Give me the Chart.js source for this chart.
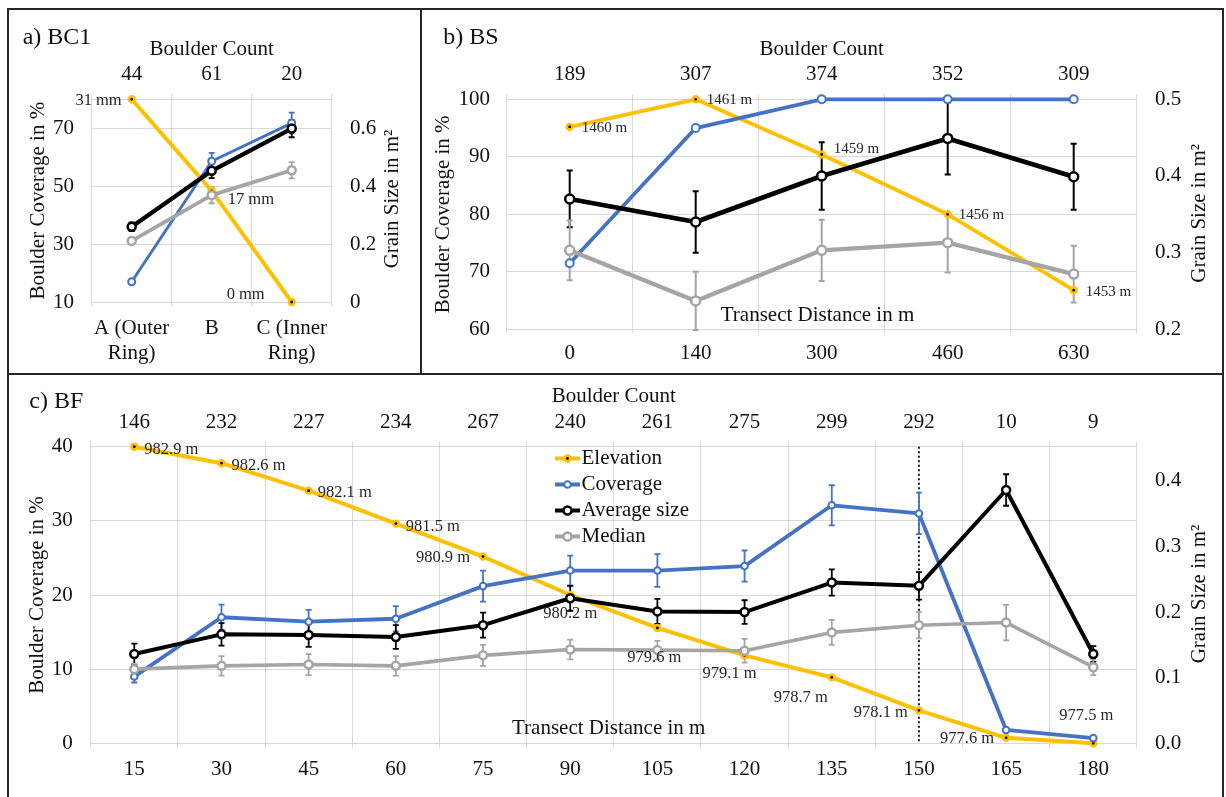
<!DOCTYPE html>
<html>
<head>
<meta charset="utf-8">
<title>Boulder coverage and grain size</title>
<script src="https://cdn.jsdelivr.net/npm/chart.js@4.4.1/dist/chart.umd.min.js"></script>
<style>
  html, body { margin:0; padding:0; background:#ffffff; }
  body { position:relative; width:1226px; height:797px; overflow:hidden; }
  canvas { position:absolute; }
  .frame { position:absolute; background:#262626; z-index:5; }
</style>
</head>
<body>
<canvas id="chartA" width="408" height="360" style="left:10px;top:11px"></canvas>
<canvas id="chartB" width="799" height="360" style="left:422px;top:11px"></canvas>
<canvas id="chartC" width="1211" height="420" style="left:10px;top:376px"></canvas>
<div class="frame" style="left:7px;top:8px;width:1217px;height:2px"></div>
<div class="frame" style="left:7px;top:8px;width:2px;height:789px"></div>
<div class="frame" style="left:1222px;top:8px;width:2px;height:789px"></div>
<div class="frame" style="left:7px;top:373px;width:1217px;height:2px"></div>
<div class="frame" style="left:420px;top:8px;width:2px;height:366px"></div>
<script>
// ================= DATA =================
// a) BC1
const aCategories = [['A (Outer', 'Ring)'], 'B', ['C (Inner', 'Ring)']];
const aBoulderCount = ['44', '61', '20'];
const aElevation = [31, 17, 0];                 // relative elevation in mm
const aCoverage = [17.0, 58.6, 71.8];           // %
const aCoverageErr = [0, 2.9, 3.6];
const aAverageSize = [0.260, 0.453, 0.599];     // m²
const aAverageErr = [0.015, 0.025, 0.030];
const aMedian = [0.211, 0.369, 0.455];
const aMedianErr = [0.012, 0.028, 0.028];
const aCoverageTicks = [10, 30, 50, 70];
const aSizeTicks = [0, 0.2, 0.4, 0.6];
const aSizeTickLabels = ['0', '0.2', '0.4', '0.6'];

// b) BS
const bDistance = ['0', '140', '300', '460', '630'];
const bBoulderCount = ['189', '307', '374', '352', '309'];
const bElevation = [1459.8, 1461.0, 1458.6, 1456.0, 1452.7];   // m
const bCoverage = [71.5, 95.0, 100, 100, 100];
const bAverageSize = [0.370, 0.340, 0.400, 0.449, 0.399];
const bAverageErr = [0.037, 0.040, 0.044, 0.047, 0.043];
const bMedian = [0.303, 0.237, 0.303, 0.313, 0.272];
const bMedianErr = [0.039, 0.038, 0.040, 0.039, 0.037];
const bCoverageTicks = [60, 70, 80, 90, 100];
const bSizeTicks = [0.2, 0.3, 0.4, 0.5];
const bSizeTickLabels = ['0.2', '0.3', '0.4', '0.5'];

// c) BF
const cDistance = ['15', '30', '45', '60', '75', '90', '105', '120', '135', '150', '165', '180'];
const cBoulderCount = ['146', '232', '227', '234', '267', '240', '261', '275', '299', '292', '10', '9'];
const cElevation = [982.9, 982.6, 982.1, 981.5, 980.9, 980.2, 979.6, 979.1, 978.7, 978.1, 977.6, 977.5];
const cCoverage = [9.0, 17.0, 16.4, 16.8, 21.2, 23.3, 23.3, 23.9, 32.1, 31.0, 1.8, 0.7];
const cCoverageErr = [0.8, 1.7, 1.6, 1.7, 2.1, 2.0, 2.2, 2.1, 2.7, 2.8, 0, 0];
const cAverageSize = [0.136, 0.166, 0.165, 0.162, 0.180, 0.221, 0.201, 0.200, 0.245, 0.240, 0.386, 0.136];
const cAverageErr = [0.016, 0.017, 0.018, 0.018, 0.019, 0.019, 0.019, 0.018, 0.020, 0.021, 0.024, 0.012];
const cMedian = [0.113, 0.118, 0.120, 0.118, 0.134, 0.143, 0.142, 0.141, 0.169, 0.180, 0.184, 0.116];
const cMedianErr = [0.008, 0.015, 0.016, 0.015, 0.016, 0.015, 0.014, 0.018, 0.019, 0.020, 0.027, 0.012];
const cCoverageTicks = [0, 10, 20, 30, 40];
const cSizeTicks = [0, 0.1, 0.2, 0.3, 0.4];
const cSizeTickLabels = ['0.0', '0.1', '0.2', '0.3', '0.4'];
const cDividerIndex = 9;   // dotted line at 150 m

// ================= STYLE / LAYOUT =================
const FONT = '"Liberation Serif", "Times New Roman", Times, serif';
const TXT = '#111111';
const LABEL_TXT = '#262626';
const GRID = '#d9d9d9';
const GOLD = '#FFC000', BLUE = '#4472C4', BLACK = '#000000', GREY = '#A5A5A5';

Chart.defaults.font.family = FONT;
Chart.defaults.font.size = 21;
Chart.defaults.color = TXT;

// label placements [dx, dy, align] relative to elevation points
const aElevPlace = [[-10, 1, 'right'], [16, 9, 'left'], [-27, -7, 'right']];
const bElevPlace = [[12, 1, 'left'], [11, 1, 'left'], [12, -5, 'left'], [11, 1, 'left'], [12, 2, 'left']];
const cElevPlace = [[10, 3, 'left'], [10, 2, 'left'], [9, 2, 'left'], [10, 3, 'left'], [-13, 1, 'right'],
  [0, 19, 'center'], [-3, 30, 'center'], [-15, 18, 'center'], [-31, 20, 'center'],
  [-11, 2, 'right'], [-12, 1, 'right'], [-7, -28, 'center']];

function elevationDataset(data, lw, r, bw) {
  return { label: 'Elevation', data, xAxisID: 'x', yAxisID: 'yElev', borderColor: GOLD, backgroundColor: GOLD,
    borderWidth: lw, pointRadius: r, pointBorderWidth: bw, pointBackgroundColor: '#000000',
    pointBorderColor: GOLD, tension: 0, fill: false, order: 4, clip: false,
    borderJoinStyle: 'round', borderCapStyle: 'round' };
}
function seriesDataset(label, data, errors, color, axis, lw, r, bw, order) {
  return { label, data, errors, xAxisID: 'x', yAxisID: axis, borderColor: color, backgroundColor: '#ffffff',
    borderWidth: lw, pointRadius: r, pointBorderWidth: bw, pointBackgroundColor: '#ffffff',
    pointBorderColor: color, tension: 0, fill: false, order, clip: false, borderJoinStyle: 'round' };
}

function xBottom(h, pad, tickLen) {
  return { type: 'category', position: 'bottom', offset: true,
    grid: { color: GRID, offset: true, drawTicks: true, tickLength: tickLen, lineWidth: 1 },
    border: { color: GRID },
    ticks: { font: { size: 21 }, color: TXT, padding: pad, maxRotation: 0, autoSkip: false },
    afterFit: s => { s.height = h; } };
}
function xTop(labels, h, pad, titlePad) {
  return { type: 'category', axis: 'x', position: 'top', labels, offset: true,
    grid: { color: GRID, offset: true, drawOnChartArea: false, drawTicks: true, tickLength: 5 },
    border: { color: GRID },
    ticks: { font: { size: 21 }, color: TXT, padding: pad, maxRotation: 0, autoSkip: false },
    title: { display: true, text: 'Boulder Count', font: { size: 21 }, color: TXT, padding: { top: titlePad, bottom: 0 } },
    afterFit: s => { s.height = h; } };
}
function yLeft(min, max, ticks, w, pad, titlePad) {
  return { type: 'linear', position: 'left', min, max,
    grid: { color: GRID, drawTicks: false, lineWidth: 1 }, border: { display: false },
    ticks: { font: { size: 21 }, color: TXT, padding: pad },
    afterBuildTicks: s => { s.ticks = ticks.map(v => ({ value: v })); },
    title: { display: true, text: 'Boulder Coverage in %', font: { size: 21 }, color: TXT, padding: { top: titlePad, bottom: 0 } },
    afterFit: s => { s.width = w; } };
}
function yRight(min, max, ticks, labels, w, pad) {
  return { type: 'linear', axis: 'y', position: 'right', min, max,
    grid: { drawOnChartArea: false, drawTicks: false }, border: { display: false },
    ticks: { font: { size: 21 }, color: TXT, padding: pad, callback: (v, i) => labels[i] },
    afterBuildTicks: s => { s.ticks = ticks.map(v => ({ value: v })); },
    afterFit: s => { s.width = w; } };
}
function baseOptions(scales) {
  return { responsive: false, animation: false, devicePixelRatio: 1, events: [],
    layout: { padding: 0 },
    plugins: { legend: { display: false }, tooltip: { enabled: false } },
    scales };
}

function extras(cfg) {
  return {
    id: 'extras',
    beforeDatasetsDraw(chart) {
      const ctx = chart.ctx;
      if (cfg.divider !== undefined) {
        const x = chart.scales.x.getPixelForValue(cfg.divider);
        ctx.save();
        ctx.strokeStyle = '#000000';
        ctx.lineWidth = 1.8;
        ctx.setLineDash([2, 2.5]);
        ctx.beginPath();
        ctx.moveTo(x, chart.chartArea.top);
        ctx.lineTo(x, chart.chartArea.bottom);
        ctx.stroke();
        ctx.restore();
      }
      chart.data.datasets.forEach((ds, di) => {
        if (!ds.errors) return;
        const meta = chart.getDatasetMeta(di);
        const ys = chart.scales[ds.yAxisID];
        ctx.save();
        ctx.strokeStyle = ds.borderColor;
        ctx.lineWidth = cfg.errWidth;
        ds.errors.forEach((e, i) => {
          if (!e) return;
          const x = meta.data[i].x, v = ds.data[i];
          const y1 = ys.getPixelForValue(v + e), y2 = ys.getPixelForValue(v - e);
          const c = cfg.errCap;
          ctx.beginPath();
          ctx.moveTo(x, y1); ctx.lineTo(x, y2);
          ctx.moveTo(x - c, y1); ctx.lineTo(x + c, y1);
          ctx.moveTo(x - c, y2); ctx.lineTo(x + c, y2);
          ctx.stroke();
        });
        ctx.restore();
      });
    },
    afterDatasetsDraw(chart) {
      const ctx = chart.ctx;
      const L = cfg.elevLabels;
      const meta = chart.getDatasetMeta(0);
      ctx.save();
      ctx.font = L.size + 'px ' + FONT;
      ctx.fillStyle = LABEL_TXT;
      ctx.textBaseline = 'middle';
      chart.data.datasets[0].data.forEach((v, i) => {
        const p = meta.data[i];
        const pl = L.place[i];
        ctx.textAlign = pl[2];
        ctx.fillText(L.format(v), p.x + pl[0], p.y + pl[1]);
      });
      ctx.restore();
    },
    afterDraw(chart) {
      const ctx = chart.ctx;
      ctx.save();
      ctx.fillStyle = TXT;
      ctx.textBaseline = 'middle';
      // panel title
      ctx.font = '24px ' + FONT;
      ctx.textAlign = 'left';
      ctx.fillText(cfg.panelTitle.text, cfg.panelTitle.x, cfg.panelTitle.y);
      // in-plot caption
      ctx.font = '21px ' + FONT;
      if (cfg.caption) {
        ctx.textAlign = 'center';
        ctx.fillText(cfg.caption.text, cfg.caption.x, cfg.caption.y);
      }
      // right axis title (reads bottom to top)
      ctx.save();
      ctx.translate(cfg.rightTitle.x, cfg.rightTitle.y);
      ctx.rotate(-Math.PI / 2);
      ctx.textAlign = 'center';
      ctx.fillText(cfg.rightTitle.text, 0, 0);
      ctx.restore();
      // legend
      if (cfg.legend) {
        const G = cfg.legend;
        chart.data.datasets.forEach((ds, i) => {
          const y = G.y + i * G.step;
          ctx.strokeStyle = ds.borderColor;
          ctx.lineWidth = 4;
          ctx.beginPath(); ctx.moveTo(G.x, y); ctx.lineTo(G.x + G.len, y); ctx.stroke();
          ctx.beginPath(); ctx.arc(G.x + G.len / 2, y, ds.pointRadius, 0, 2 * Math.PI);
          ctx.fillStyle = ds.pointBackgroundColor; ctx.fill();
          ctx.lineWidth = ds.pointBorderWidth; ctx.strokeStyle = ds.pointBorderColor; ctx.stroke();
          ctx.fillStyle = TXT;
          ctx.textAlign = 'left';
          ctx.fillText(ds.label, G.x + G.len + G.gap, y);
        });
      }
      ctx.restore();
    }
  };
}

// ================= CHART a) BC1 =================
new Chart(document.getElementById('chartA'), {
  type: 'line',
  data: {
    labels: aCategories,
    datasets: [
      elevationDataset(aElevation, 4, 2.8, 2.8),
      seriesDataset('Coverage', aCoverage, aCoverageErr, BLUE, 'y', 3, 3.5, 2, 3),
      seriesDataset('Average size', aAverageSize, aAverageErr, BLACK, 'ySize', 4.3, 4, 2.5, 2),
      seriesDataset('Median', aMedian, aMedianErr, GREY, 'ySize', 3.8, 4, 2.5, 1)
    ]
  },
  options: baseOptions({
    x: xBottom(69, 9.7, 4),
    xTop: xTop(aBoulderCount, 88.3, 7.7, 25.4),
    y: yLeft(10, 80, aCoverageTicks, 81.7, 17.7, 15.7),
    ySize: yRight(0, 0.7, aSizeTicks, aSizeTickLabels, 86.3, 18.3),
    yElev: { type: 'linear', axis: 'y', display: false, min: 0, max: 31 }
  }),
  plugins: [extras({
    errWidth: 1.8, errCap: 3,
    elevLabels: { size: 16.5, place: aElevPlace, format: v => v + ' mm' },
    panelTitle: { text: 'a) BC1', x: 12.7, y: 26.7 },
    rightTitle: { text: 'Grain Size in m²', x: 382.3, y: 188 }
  })]
});

// ================= CHART b) BS =================
new Chart(document.getElementById('chartB'), {
  type: 'line',
  data: {
    labels: bDistance,
    datasets: [
      elevationDataset(bElevation, 3.8, 2.8, 2.8),
      seriesDataset('Coverage', bCoverage, null, BLUE, 'y', 3.8, 4, 2, 3),
      seriesDataset('Average size', bAverageSize, bAverageErr, BLACK, 'ySize', 4.7, 4.5, 2.5, 2),
      seriesDataset('Median', bMedian, bMedianErr, GREY, 'ySize', 4.3, 4.5, 2.5, 1)
    ]
  },
  options: baseOptions({
    x: xBottom(41.7, 7.4, 4),
    xTop: xTop(bBoulderCount, 88.3, 7.7, 25.7),
    y: yLeft(60, 100, bCoverageTicks, 84.7, 16.7, 8.7),
    ySize: yRight(0.2, 0.5, bSizeTicks, bSizeTickLabels, 84.3, 18.3),
    yElev: { type: 'linear', axis: 'y', display: false, min: 1451, max: 1461 }
  }),
  plugins: [extras({
    errWidth: 2, errCap: 3,
    elevLabels: { size: 15, place: bElevPlace, format: v => Math.round(v) + ' m' },
    panelTitle: { text: 'b) BS', x: 21.3, y: 26.7 },
    caption: { text: 'Transect Distance in m', x: 395.5, y: 304 },
    rightTitle: { text: 'Grain Size in m²', x: 777, y: 202.3 }
  })]
});

// ================= CHART c) BF =================
new Chart(document.getElementById('chartC'), {
  type: 'line',
  data: {
    labels: cDistance,
    datasets: [
      elevationDataset(cElevation, 4, 2.8, 2.8),
      seriesDataset('Coverage', cCoverage, cCoverageErr, BLUE, 'y', 3.8, 3.3, 2, 3),
      seriesDataset('Average size', cAverageSize, cAverageErr, BLACK, 'ySize', 4, 4, 2.5, 2),
      seriesDataset('Median', cMedian, cMedianErr, GREY, 'ySize', 3.6, 4, 2.5, 1)
    ]
  },
  options: baseOptions({
    x: xBottom(52.7, 8.4, 5),
    xTop: xTop(cBoulderCount, 70.7, 6.4, 8.1),
    y: yLeft(0, 40, cCoverageTicks, 80.7, 18, 14.4),
    ySize: yRight(0, 0.452, cSizeTicks, cSizeTickLabels, 84.1, 18),
    yElev: { type: 'linear', axis: 'y', display: false, min: 977.5, max: 982.9 }
  }),
  plugins: [extras({
    errWidth: 1.8, errCap: 3,
    divider: cDividerIndex,
    elevLabels: { size: 16.5, place: cElevPlace, format: v => v.toFixed(1) + ' m' },
    panelTitle: { text: 'c) BF', x: 19.3, y: 25.7 },
    caption: { text: 'Transect Distance in m', x: 598.7, y: 352.3 },
    rightTitle: { text: 'Grain Size in m²', x: 1189, y: 218 },
    legend: { x: 545, y: 82.5, step: 26, len: 25, gap: 1.5 }
  })]
});
</script>
</body>
</html>
